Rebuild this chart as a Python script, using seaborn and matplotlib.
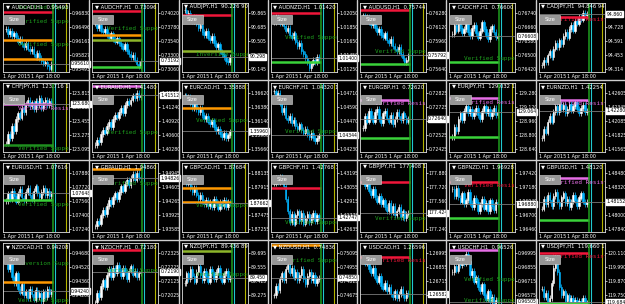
import numpy as np
import matplotlib
matplotlib.use("Agg")
import matplotlib.pyplot as plt
import seaborn as sns
from matplotlib.lines import Line2D
from matplotlib.patches import Rectangle

# ---- data ----
pairs = ["AUDCAD", "AUDCHF", "AUDJPY", "AUDNZD", "AUDUSD", "CADCHF", "CADJPY",
         "CHFJPY", "EURAUD", "EURCAD", "EURCHF", "EURGBP", "EURJPY", "EURNZD",
         "EURUSD", "GBPAUD", "GBPCAD", "GBPCHF", "GBPJPY", "GBPNZD", "GBPUSD",
         "NZDCAD", "NZDCHF", "NZDJPY", "NZDUSD", "USDCAD", "USDCHF", "USDJPY"]

# visible price range of each chart (bottom, top)
price_lo = [0.9541, 0.7300, 90.10, 1.0120, 0.7560, 0.7640, 94.28,
            123.05, 1.4020, 1.3560, 1.0420, 0.7240, 128.60, 1.4150,
            1.0720, 1.9350, 1.8720, 1.4260, 177.20, 1.9640, 1.4780,
            0.9400, 0.7190, 89.10, 0.7450, 1.2640, 0.9640, 119.60]
price_hi = [0.9708, 0.7420, 91.00, 1.0220, 0.7640, 0.7680, 94.97,
            123.95, 1.4180, 1.3680, 1.0480, 0.7290, 129.40, 1.4280,
            1.0800, 1.9520, 1.8830, 1.4330, 178.00, 1.9760, 1.4860,
            0.9480, 0.7240, 89.80, 0.7520, 1.2710, 0.9710, 120.20]

# hourly closes, in % of the visible price range
closes_audcad = [62, 55, 60, 52, 56, 50, 44, 48, 40, 36, 42, 34, 30, 33, 26, 22, 28, 20, 16, 12, 14, 8, 5, 12]
closes_audchf = [70, 64, 68, 60, 58, 63, 54, 50, 56, 48, 44, 50, 42, 38, 34, 40, 30, 26, 22, 25, 18, 12, 8, 16]
closes_audjpy = [90, 82, 86, 78, 74, 80, 70, 64, 68, 58, 54, 60, 50, 46, 52, 42, 36, 40, 30, 26, 22, 16, 14, 22]
closes_audnzd = [72, 80, 74, 70, 76, 66, 60, 64, 54, 50, 56, 44, 38, 42, 30, 26, 20, 14, 6, 12, 18, 14, 22, 20]
closes_audusd = [82, 76, 80, 72, 68, 74, 64, 58, 62, 54, 50, 56, 46, 42, 48, 38, 34, 30, 36, 26, 20, 14, 18, 24]
closes_cadchf = [55, 68, 60, 72, 64, 56, 62, 70, 58, 52, 64, 68, 56, 50, 60, 72, 62, 54, 48, 62, 66, 58, 50, 52]
closes_cadjpy = [10, 18, 14, 24, 30, 22, 34, 42, 36, 46, 40, 52, 58, 50, 62, 68, 60, 74, 70, 80, 76, 86, 82, 84]
closes_chfjpy = [12, 26, 20, 38, 30, 48, 56, 50, 64, 58, 70, 76, 66, 72, 62, 74, 68, 78, 64, 72, 76, 68, 74, 70]
closes_euraud = [10, 18, 14, 26, 32, 28, 38, 44, 36, 48, 54, 50, 58, 64, 56, 68, 74, 70, 76, 82, 78, 86, 80, 82]
closes_eurcad = [82, 76, 80, 70, 64, 72, 62, 58, 64, 54, 48, 52, 44, 40, 46, 36, 30, 34, 26, 22, 28, 20, 24, 30]
closes_eurchf = [88, 82, 86, 70, 58, 64, 50, 46, 52, 42, 46, 38, 34, 40, 32, 28, 34, 26, 22, 28, 20, 16, 20, 24]
closes_eurgbp = [35, 52, 44, 60, 50, 44, 58, 62, 48, 42, 56, 60, 50, 44, 54, 40, 48, 58, 52, 46, 56, 50, 44, 48]
closes_eurjpy = [22, 36, 30, 48, 56, 46, 60, 66, 56, 62, 52, 58, 64, 54, 48, 60, 66, 56, 62, 52, 58, 64, 54, 58]
closes_eurnzd = [20, 34, 28, 44, 52, 44, 58, 66, 58, 70, 62, 68, 56, 62, 70, 60, 66, 72, 62, 56, 64, 68, 58, 60]
closes_eurusd = [45, 56, 48, 60, 52, 44, 56, 62, 50, 46, 58, 64, 54, 48, 60, 66, 56, 50, 58, 64, 54, 60, 52, 56]
closes_gbpaud = [8, 16, 12, 24, 32, 26, 38, 46, 40, 50, 56, 48, 58, 66, 60, 70, 76, 68, 78, 84, 76, 86, 80, 78]
closes_gbpcad = [78, 70, 74, 64, 58, 64, 54, 48, 54, 44, 40, 46, 38, 44, 36, 48, 42, 34, 44, 38, 46, 36, 44, 42]
closes_gbpchf = [70, 78, 72, 80, 74, 66, 48, 30, 14, 26, 12, 24, 30, 16, 28, 12, 20, 26, 14, 22, 28, 16, 24, 21]
closes_gbpjpy = [74, 66, 70, 60, 54, 62, 50, 44, 52, 40, 46, 36, 30, 42, 28, 38, 24, 30, 36, 22, 30, 20, 26, 28]
closes_gbpnzd = [62, 52, 64, 50, 44, 56, 40, 46, 58, 42, 36, 50, 44, 30, 40, 48, 34, 42, 30, 46, 38, 32, 44, 40]
closes_gbpusd = [34, 48, 40, 54, 46, 38, 52, 58, 44, 38, 50, 56, 42, 48, 36, 44, 54, 46, 38, 50, 56, 44, 40, 44]
closes_nzdcad = [76, 62, 70, 50, 42, 56, 34, 28, 40, 24, 30, 20, 34, 26, 18, 32, 22, 28, 16, 30, 22, 34, 26, 30]
closes_nzdchf = [14, 28, 22, 38, 46, 36, 54, 62, 50, 64, 56, 68, 60, 52, 64, 58, 48, 60, 66, 54, 60, 50, 56, 58]
closes_nzdjpy = [42, 56, 48, 62, 52, 44, 58, 66, 54, 46, 60, 52, 44, 62, 56, 48, 58, 64, 50, 44, 56, 60, 48, 50]
closes_nzdusd = [24, 38, 32, 48, 56, 46, 62, 68, 56, 64, 50, 58, 46, 54, 62, 48, 40, 52, 58, 46, 54, 42, 48, 50]
closes_usdcad = [78, 70, 74, 62, 56, 64, 50, 44, 52, 38, 34, 42, 30, 36, 26, 22, 30, 20, 26, 34, 24, 20, 28, 26]
closes_usdchf = [58, 66, 60, 72, 68, 78, 70, 84, 74, 54, 60, 44, 50, 36, 30, 40, 24, 18, 30, 14, 22, 10, 18, 15]
closes_usdjpy = [34, 22, 28, 14, 20, 42, 64, 78, 58, 36, 24, 30, 16, 24, 12, 20, 10, 18, 8, 16, 12, 20, 10, 14]

all_closes = [closes_audcad, closes_audchf, closes_audjpy, closes_audnzd, closes_audusd, closes_cadchf, closes_cadjpy,
              closes_chfjpy, closes_euraud, closes_eurcad, closes_eurchf, closes_eurgbp, closes_eurjpy, closes_eurnzd,
              closes_eurusd, closes_gbpaud, closes_gbpcad, closes_gbpchf, closes_gbpjpy, closes_gbpnzd, closes_gbpusd,
              closes_nzdcad, closes_nzdchf, closes_nzdjpy, closes_nzdusd, closes_usdcad, closes_usdchf, closes_usdjpy]

RED, ORANGE, OLIVE, LIME, PINK, DKG = "#f0163a", "#ff9800", "#8db52a", "#3ad23a", "#e66ee6", "#1f8f1f"
TG = "#1e9e1e"  # green zone text

# support / resistance lines (% of range, colour)
levels = [[(87, RED), (46, ORANGE), (19, ORANGE)], [(89, RED), (54, ORANGE), (46, OLIVE), (7, LIME)],
          [(83, RED), (31, OLIVE)], [(85, RED), (14, LIME)], [(90, RED), (12, LIME)], [(15, LIME)], [(80, RED)],
          [(70, PINK), (10, DKG)], [(95, PINK)], [(64, ORANGE)], [], [(76, PINK), (20, LIME)],
          [(78, PINK), (22, LIME)], [(76, PINK)],
          [(46, LIME)], [(92, ORANGE)], [(64, ORANGE), (44, ORANGE)], [(64, RED)], [(73, RED)],
          [(73, RED), (21, LIME)], [(78, PINK), (18, LIME)],
          [(43, ORANGE)], [(90, RED)], [(88, OLIVE)], [(97, ORANGE)], [(80, RED)], [(90, PINK)],
          [(86, RED), (13, LIME)]]

zone_texts = [[(94, "Verified Support, Tr", TG), (73, "Verified Support, Tr", TG), (40, "Verified Support, Tr", TG)],
              [(63, "Verified Support, Tr", TG)], [(26, "Inversion Support", TG)], [(50, "Verified Support", TG)],
              [(30, "Verified Support", TG)], [(20, "Verified Support, Tr", TG)], [(76, "Verified Resistance", RED)],
              [(63, "Verified Resistance", PINK), (5, "Verified Support, Tr", TG)], [(28, "Verified Support", TG)],
              [(45, "Verified Support", TG)], [(30, "Verified Support", TG)], [(70, "Verified Resistance", PINK)],
              [(72, "Verified Resistance", PINK)], [(70, "Verified Resistance", PINK)],
              [(40, "Verified Support", TG)], [(70, "Verified Support", TG)], [(38, "Verified Support", TG)],
              [(14, "Verified Support, Tr", TG)], [(20, "Verified Support", TG)], [(67, "Verified Resistance", RED)],
              [(72, "Verified Resistance", PINK)],
              [(71, "Inversion Support", TG), (16, "Verified Support", TG)], [(60, "Verified Support", TG)],
              [(55, "Verified Support", TG)], [(75, "Verified Support", TG)], [(74, "Verified Resistance", RED)],
              [(47, "Verified Support", TG), (16, "Verified Support, Tr", TG)], [(80, "Verified Resistance", RED)]]

date_labels = ["1 Apr 2015", "1 Apr 18:00"]
tick_pcts = [85, 65, 45, 25, 5]
wick = 4  # wick length beyond the body, % of range

# ---- style ----
sns.set_theme(style="dark", rc={"figure.facecolor": "black", "axes.facecolor": "black",
                                "axes.edgecolor": "white", "text.color": "white"})
plt.rcParams["font.family"] = ["DejaVu Sans"]

W, H = 625, 304
fig = plt.figure(figsize=(W / 100, H / 100), dpi=100)
colw = W / 7

for i, pair in enumerate(pairs):
    r, c = divmod(i, 7)
    x0, y0 = c * colw, r * 80
    ax = fig.add_axes([(x0 + 3) / W, 1 - (y0 + 72) / H, 66 / W, 69 / H])
    lo, hi = price_lo[i], price_hi[i]
    dec = 3 if hi > 50 else 5
    closes = np.array(all_closes[i], dtype=float)
    price = lo + (hi - lo) * closes / 100
    opens = np.r_[price[0], price[:-1]]
    n = len(price)
    x = np.arange(n)
    up = price >= opens
    cols = np.where(up, "white", "#00b4ff")
    w = (hi - lo) * wick / 100
    ax.vlines(x, np.minimum(opens, price) - w, np.maximum(opens, price) + w, color=cols, lw=0.5)
    ax.bar(x, price - opens, bottom=opens, width=0.75, color=cols, edgecolor=cols, linewidth=0.4)

    xl = (-1.5, n - 1 + 9)
    ax.set_xlim(*xl)
    ax.set_ylim(lo, hi)
    gx = n - 1 + 0.9
    for pct, col in levels[i]:
        ax.hlines(lo + (hi - lo) * pct / 100, xl[0], gx, color=col, lw=1.8)
    for pct, txt, col in zone_texts[i]:
        ax.text(0.22, lo + (hi - lo) * pct / 100, txt, transform=ax.get_yaxis_transform(),
                color=col, fontsize=4.3, family="DejaVu Sans Mono", va="center", clip_on=True)
    ax.axvline(gx, color="#1f9f1f", lw=1.1)
    ax.axvline(n - 1 + 1.9, color="#20c8d0", lw=0.8)
    ax.axvline(n - 1 + 7.5, color="#b4b400", lw=0.8)

    cur = price[-1]
    ax.axhline(cur, color="#7a7a7a", lw=0.6)
    ax.text(1.03, cur, f"{cur:.{dec}f}", transform=ax.get_yaxis_transform(), color="black",
            fontsize=3.3, va="center", clip_on=False,
            bbox=dict(boxstyle="square,pad=0.1", fc="white", ec="white"))

    ticks = [lo + (hi - lo) * p / 100 for p in tick_pcts]
    ax.set_yticks(ticks)
    ax.set_yticklabels([f"{t:.{dec}f}" for t in ticks])
    ax.yaxis.tick_right()
    ax.tick_params(axis="y", colors="white", labelsize=3.3, length=1.2, width=0.5, pad=0.8)
    ax.set_xticks([])
    for s in ax.spines.values():
        s.set_color("#e0e0e0")
        s.set_linewidth(0.6)

    o_, c_ = opens[-1], price[-1]
    title = f"\u25bc {pair},H1  {o_:.{dec}f} {max(o_, c_):.{dec}f} {min(o_, c_):.{dec}f} {c_:.{dec}f}"
    ax.text(0.04, 0.985, title, transform=ax.transAxes, fontsize=3.8, color="white", va="top", clip_on=True)

    ax.add_patch(Rectangle((0.01, 0.70), 0.31, 0.13, transform=ax.transAxes, fc="#969696",
                           ec="#d8d8d8", lw=0.4, zorder=5))
    ax.text(0.165, 0.765, "Size", transform=ax.transAxes, fontsize=3.8, color="white",
            ha="center", va="center", zorder=6)

    ax.text(0.0, -0.03, date_labels[0], transform=ax.transAxes, fontsize=3.5, color="white", va="top")
    ax.text(0.43, -0.03, date_labels[1], transform=ax.transAxes, fontsize=3.5, color="white", va="top")

# window borders between charts
for c in range(1, 7):
    fig.add_artist(Line2D([c * colw / W] * 2, [0, 1], color="#cfcfcf", lw=1.0))
for r in range(1, 4):
    fig.add_artist(Line2D([0, 1], [1 - r * 80 / H] * 2, color="#cfcfcf", lw=1.0))

fig.savefig("out.png", dpi=100, facecolor="black")
